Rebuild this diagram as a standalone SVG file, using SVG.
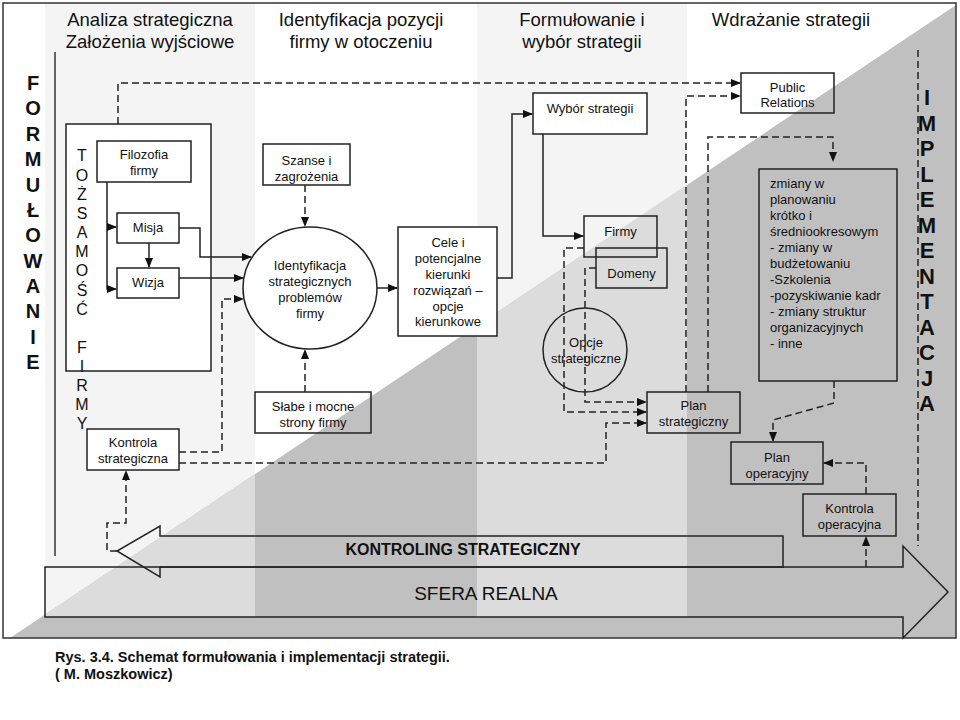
<svg xmlns="http://www.w3.org/2000/svg" width="960" height="720" viewBox="0 0 960 720">
<style>
text{font-family:"Liberation Sans",Arial,sans-serif;fill:#111}
.h{font-size:18.5px;text-anchor:middle}
.t{font-size:13px;text-anchor:middle}
.tl{font-size:13px}
.big{font-size:20px;font-weight:bold;text-anchor:middle}
.bigr{font-size:22px;font-weight:bold;text-anchor:middle}
.v{font-size:16px;text-anchor:middle}
.box{fill:none;stroke:#222;stroke-width:1.5}
.wbox{fill:#fff;stroke:#222;stroke-width:1.5}
.c{fill:none;stroke:#222;stroke-width:1.5}
.d{fill:none;stroke:#222;stroke-width:1.5;stroke-dasharray:7,4}
</style>
<defs>
<marker id="ah" markerWidth="10" markerHeight="8" refX="9" refY="4" orient="auto" markerUnits="userSpaceOnUse"><path d="M0,0 L10,4 L0,8 z" fill="#111"/></marker>
<clipPath id="tri"><polygon points="10,638 956,5 956,638"/></clipPath>
</defs>
<g id="background">
<rect x="0" y="0" width="960" height="720" fill="#fff"/>
<rect x="45" y="3" width="210" height="614" fill="#f4f4f4"/>
<rect x="477" y="3" width="210" height="614" fill="#f4f4f4"/>
<g clip-path="url(#tri)">
<rect x="0" y="0" width="960" height="640" fill="#c0c0c0"/>
<rect x="45" y="0" width="210" height="617" fill="#dcdcdc"/>
<rect x="477" y="0" width="210" height="617" fill="#dcdcdc"/>
</g>
<rect x="3" y="3" width="953" height="635" fill="none" stroke="#333" stroke-width="1.5"/>
<line x1="55" y1="52" x2="55" y2="556" stroke="#333" stroke-width="1.5"/>
</g>
<g id="headers">
<text class="h" x="150" y="26">Analiza strategiczna</text>
<text class="h" x="150" y="48">Założenia wyjściowe</text>
<text class="h" x="361" y="26">Identyfikacja pozycji</text>
<text class="h" x="361" y="48">firmy w otoczeniu</text>
<text class="h" x="582" y="26">Formułowanie i</text>
<text class="h" x="582" y="48">wybór strategii</text>
<text class="h" x="791" y="26">Wdrażanie strategii</text>
</g>
<g id="formulowanie">
<text class="big" x="33" y="90">F</text>
<text class="big" x="33" y="115.4">O</text>
<text class="big" x="33" y="140.7">R</text>
<text class="big" x="33" y="166.1">M</text>
<text class="big" x="33" y="191.5">U</text>
<text class="big" x="33" y="216.8">Ł</text>
<text class="big" x="33" y="242.2">O</text>
<text class="big" x="33" y="267.5">W</text>
<text class="big" x="33" y="292.9">A</text>
<text class="big" x="33" y="318.3">N</text>
<text class="big" x="33" y="343.6">I</text>
<text class="big" x="33" y="369">E</text>
</g>
<g id="implementacja">
<text class="bigr" x="927" y="105">I</text>
<text class="bigr" x="927" y="130.5">M</text>
<text class="bigr" x="927" y="156">P</text>
<text class="bigr" x="927" y="181.5">L</text>
<text class="bigr" x="927" y="207">E</text>
<text class="bigr" x="927" y="232.5">M</text>
<text class="bigr" x="927" y="258">E</text>
<text class="bigr" x="927" y="283.5">N</text>
<text class="bigr" x="927" y="309">T</text>
<text class="bigr" x="927" y="334.5">A</text>
<text class="bigr" x="927" y="360">C</text>
<text class="bigr" x="927" y="385.5">J</text>
<text class="bigr" x="927" y="411">A</text>
</g>
<g id="tozsamosc">
<rect class="wbox" x="66" y="124" width="145" height="247"/>
<text class="v" x="82" y="161">T</text>
<text class="v" x="82" y="180.5">O</text>
<text class="v" x="82" y="199.5">Ż</text>
<text class="v" x="82" y="218.5">S</text>
<text class="v" x="82" y="238">A</text>
<text class="v" x="82" y="257">M</text>
<text class="v" x="82" y="276">O</text>
<text class="v" x="82" y="295.5">Ś</text>
<text class="v" x="82" y="315">Ć</text>
<text class="v" x="82" y="353">F</text>
<text class="v" x="82" y="372">I</text>
<text class="v" x="82" y="391">R</text>
<text class="v" x="82" y="410">M</text>
<text class="v" x="82" y="429">Y</text>
</g>
<g id="filozofia"><rect class="wbox" x="97" y="141" width="94" height="41"/><text class="t" x="144" y="159">Filozofia</text><text class="t" x="144" y="175">firmy</text></g>
<g id="misja"><rect class="wbox" x="117" y="213" width="62" height="30"/><text class="t" x="148" y="232">Misja</text></g>
<g id="wizja"><rect class="wbox" x="117" y="268" width="62" height="30"/><text class="t" x="148" y="287">Wizja</text></g>
<g id="kontrola-strategiczna"><rect class="wbox" x="87" y="429" width="92" height="41"/><text class="t" x="133" y="447">Kontrola</text><text class="t" x="133" y="463">strategiczna</text></g>
<g id="szanse"><rect class="wbox" x="263" y="144" width="87" height="41"/><text class="t" x="306.5" y="165">Szanse i</text><text class="t" x="306.5" y="181">zagrożenia</text></g>
<g id="identyfikacja"><ellipse cx="310" cy="288" rx="67" ry="61" fill="#fff" stroke="#222" stroke-width="1.5"/><text class="t" x="310" y="270">Identyfikacja</text><text class="t" x="310" y="286">strategicznych</text><text class="t" x="310" y="302">problemów</text><text class="t" x="310" y="318">firmy</text></g>
<g id="slabe"><rect class="box" x="255" y="392" width="116" height="41"/><text class="t" x="313" y="411">Słabe i mocne</text><text class="t" x="313" y="427">strony firmy</text></g>
<g id="cele"><rect class="wbox" x="398" y="227" width="99" height="109"/><text class="t" x="448" y="247">Cele i</text><text class="t" x="448" y="263">potencjalne</text><text class="t" x="448" y="279">kierunki</text><text class="t" x="448" y="295">rozwiązań –</text><text class="t" x="448" y="311">opcje</text><text class="t" x="448" y="326">kierunkowe</text></g>
<g id="wybor"><rect class="wbox" x="533" y="93" width="114" height="41"/><text class="t" x="590" y="113">Wybór strategii</text></g>
<g id="firmy"><rect class="box" x="584" y="216" width="73" height="41"/><text class="t" x="620.5" y="236">Firmy</text></g>
<g id="domeny"><rect class="box" x="596" y="248" width="71" height="40"/><text class="t" x="631.5" y="278">Domeny</text></g>
<g id="opcje"><circle cx="585" cy="350" r="42" fill="none" stroke="#222" stroke-width="1.5"/><text class="t" x="586" y="347">Opcje</text><text class="t" x="586" y="363">strategiczne</text></g>
<g id="plan-strategiczny"><rect class="box" x="647" y="392" width="93" height="41"/><text class="t" x="693.5" y="410">Plan</text><text class="t" x="693.5" y="426">strategiczny</text></g>
<g id="public-relations"><rect class="box" x="741" y="73" width="93" height="40"/><text class="t" x="787.5" y="92">Public</text><text class="t" x="787.5" y="107">Relations</text></g>
<g id="zmiany"><rect class="box" x="759" y="169" width="138" height="212"/>
<text class="tl" x="770" y="188">zmiany w</text>
<text class="tl" x="770" y="204">planowaniu</text>
<text class="tl" x="770" y="220">krótko i</text>
<text class="tl" x="770" y="236">średniookresowym</text>
<text class="tl" x="770" y="252">- zmiany w</text>
<text class="tl" x="770" y="268">budżetowaniu</text>
<text class="tl" x="770" y="284">-Szkolenia</text>
<text class="tl" x="770" y="300">-pozyskiwanie kadr</text>
<text class="tl" x="770" y="316">- zmiany struktur</text>
<text class="tl" x="770" y="332">organizacyjnych</text>
<text class="tl" x="770" y="348">- inne</text>
</g>
<g id="plan-operacyjny"><rect class="box" x="731" y="442" width="92" height="42"/><text class="t" x="777" y="462">Plan</text><text class="t" x="777" y="478">operacyjny</text></g>
<g id="kontrola-operacyjna"><rect class="box" x="803" y="494" width="93" height="42"/><text class="t" x="849.5" y="513">Kontrola</text><text class="t" x="849.5" y="529">operacyjna</text></g>
<g id="kontroling">
<polygon class="box" points="783,536 160,536 160,526 117,551 160,577 160,567 783,567"/>
<text x="463" y="555" style="font-size:16px;font-weight:bold;text-anchor:middle">KONTROLING STRATEGICZNY</text>
</g>
<g id="sfera">
<polygon class="box" points="45,567 903,567 903,546 948,592 903,638 903,617 45,617"/>
<text x="486" y="600" style="font-size:19px;text-anchor:middle">SFERA REALNA</text>
</g>
<g id="connectors">
<path class="c" d="M107,182 V289 H116" marker-end="url(#ah)"/>
<path class="c" d="M107,227 H116" marker-end="url(#ah)"/>
<path class="c" d="M149,243 V267" marker-end="url(#ah)"/>
<path class="c" d="M179,228 H200 V257 H251" marker-end="url(#ah)"/>
<path class="c" d="M179,278 H243" marker-end="url(#ah)"/>
<path class="c" d="M377,288 H397" marker-end="url(#ah)"/>
<path class="c" d="M497,278 H512 V114 H532" marker-end="url(#ah)"/>
<path class="c" d="M543,134 V236 H583" marker-end="url(#ah)"/>
<path class="d" d="M118,124 V83 H740" marker-end="url(#ah)"/>
<path class="d" d="M179,452 H222 V299 H243" marker-end="url(#ah)"/>
<path class="d" d="M179,463 H606 V423 H646" marker-end="url(#ah)"/>
<path class="d" d="M117,551 H107 V523 H126 V471" marker-end="url(#ah)"/>
<path class="d" d="M305,185 V226" marker-end="url(#ah)"/>
<path class="d" d="M305,392 V350" marker-end="url(#ah)"/>
<path class="d" d="M584,248 H564 V412 H646" marker-end="url(#ah)"/>
<path class="d" d="M596,268 H585 V402 H646" marker-end="url(#ah)"/>
<path class="d" d="M686,392 V96 H740" marker-end="url(#ah)"/>
<path class="d" d="M708,392 V137 H833 V161" marker-end="url(#ah)"/>
<path class="d" d="M834,381 V403 L773,420 V441" marker-end="url(#ah)"/>
<path class="d" d="M866,494 V463 H824" marker-end="url(#ah)"/>
<path class="d" d="M866,567 V537" marker-end="url(#ah)"/>
<path class="d" d="M918,50 V546"/>
</g>
<g id="caption">
<text x="55" y="662" style="font-size:14.5px;font-weight:bold">Rys. 3.4. Schemat formułowania i implementacji strategii.</text>
<text x="55" y="679" style="font-size:14.5px;font-weight:bold">( M. Moszkowicz)</text>
</g>
</svg>
